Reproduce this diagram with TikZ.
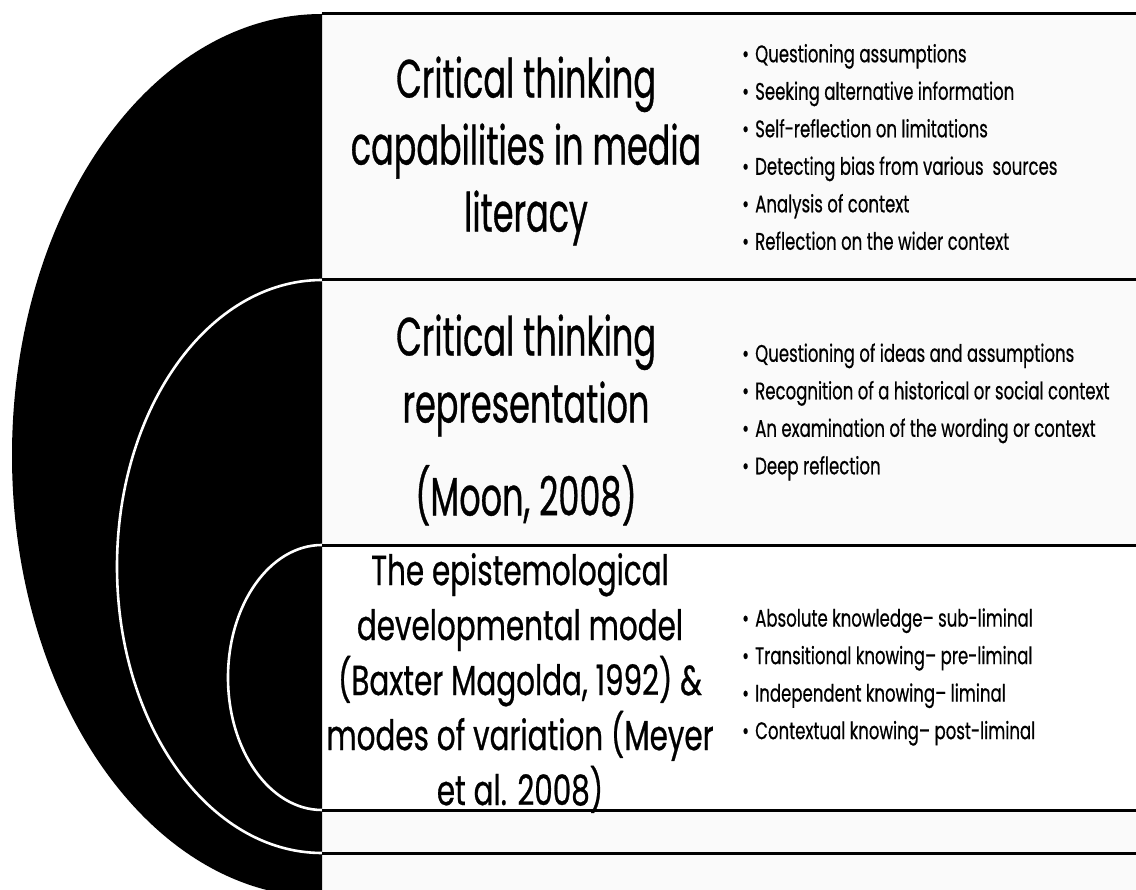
\documentclass[tikz,border=0pt]{standalone}
\usepackage{fontspec}
\newfontfamily\gothic[FakeStretch=0.62, FakeBold=0.6]{Poppins}
\newfontfamily\gothicwide[FakeStretch=0.70, FakeBold=0.6]{Poppins}
\newfontfamily\gothicsmall[FakeStretch=0.69, FakeBold=0.5]{Poppins}
\usetikzlibrary{positioning}
\newcommand{\bul}{\makebox[13pt][l]{\textbullet}}
\tikzset{%
	band/.style         = {fill=gray!4},
	rule/.style         = {line width=3pt, black},
	ring/.style         = {white, line width=2.6pt},
	heading/.style      = {align=center, inner sep=0pt, font=\gothic\fontsize{54}{67}\selectfont},
	smallheading/.style = {align=center, inner sep=0pt, font=\gothicwide\fontsize{42}{55}\selectfont},
	points/.style       = {align=left, anchor=west, inner sep=0pt, font=\gothicsmall\fontsize{24}{37.5}\selectfont},
}
\begin{document}
\begin{tikzpicture}[x=1pt,y=-1pt]
	\clip (0,0) rectangle (1136,890);
	\fill[white] (0,0) rectangle (1136,890);
	% bands on the right
	\fill[band] (322,14) rectangle (1136,545);
	\fill[band] (322,810) rectangle (1136,890);
	% black half disc and its rings
	\fill[black] (322,14) arc[start angle=270, end angle=90, x radius=310, y radius=441.5] -- cycle;
	\draw[ring] (322,280) arc[start angle=270, end angle=90, x radius=205, y radius=286.5];
	\draw[ring] (322,545) arc[start angle=270, end angle=90, x radius=94, y radius=132.5];
	% rules between the bands
	\foreach \y in {14,280,545,810,853}
		\draw[rule] (322,\y) -- (1136,\y);
	
	\node[heading] (media) at (526,151) {Critical thinking\\capabilities in media\\literacy};
	\node[points] (mediapts) at (742,147) {\bul Questioning assumptions\\\bul Seeking alternative information\\\bul Self-reflection on limitations\\\bul Detecting bias from various\ \ sources\\\bul Analysis of context\\\bul Reflection on the wider context};
	
	\node[heading] (moon) at (526,420) {Critical thinking\\representation\\[26pt](Moon, 2008)};
	\node[points] (moonpts) at (742,412) {\bul Questioning of ideas and assumptions\\\bul Recognition of a historical or social context\\\bul An examination of the wording or context\\\bul Deep reflection};
	
	\node[smallheading] (magolda) at (520,683) {The epistemological\\developmental model\\(Baxter Magolda, 1992) \&\\modes of variation (Meyer\\et al. 2008)};
	\node[points] (magoldapts) at (742,677) {\bul Absolute knowledge– sub-liminal\\\bul Transitional knowing– pre-liminal\\\bul Independent knowing– liminal\\\bul Contextual knowing– post-liminal};
\end{tikzpicture}
\end{document}
